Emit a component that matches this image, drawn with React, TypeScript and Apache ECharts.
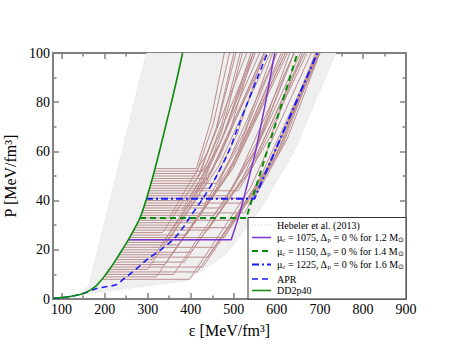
import React, { useEffect, useRef } from "react";
import * as echarts from "echarts";

// DD2p40 (hadronic EoS)
const DD2_E = [80, 100, 120, 140, 150, 160, 170, 180, 190, 200, 210, 220, 230, 240, 250, 260, 270, 282, 296, 310, 320, 335, 351, 366, 381];
const DD2_P = [0.3, 0.6, 1.05, 1.7, 2.2, 3.0, 4.0, 5.3, 7.2, 9.4, 11.8, 14.3, 17.0, 19.8, 22.6, 25.6, 28.8, 32.9, 40.0, 48.5, 55, 65.5, 77, 88, 100];

// APR
const APR_E = [80, 100, 120, 140, 150, 165, 180, 200, 228, 245, 265, 285, 300, 330, 360, 380, 397, 428, 460, 490, 510, 530, 555, 578];
const APR_P = [0.3, 0.55, 1.0, 1.7, 2.2, 3.2, 4.2, 4.9, 5.9, 8.3, 11, 14, 16.3, 20, 24.3, 28.5, 33, 40.8, 50, 60.7, 70, 79, 90, 100];

// hybrid EoS, Δp = 0 %
const MU1075_E = [256.4, 494, 513, 532, 552, 574, 595];
const MU1075_P = [24.1, 24.1, 34.3, 47, 61, 80, 100];
const MU1150_E = [282, 529, 648];
const MU1150_P = [32.9, 32.9, 100];
const MU1225_E = [296, 548, 694];
const MU1225_P = [40.8, 40.8, 100];

// Hebeler et al. (2013) band outline
const HEB_E = [145, 163, 297, 737, 640, 560, 480, 390];
const HEB_P = [1.8, 5.3, 100, 100, 60, 36, 18, 7.4];

// family of hybrid EoS (rosy lines): plateau pressure, start, end, knee, top (at P=100)
const ROSY_P = [8, 9, 10, 11, 12, 13, 14, 15, 16, 17, 18, 19, 20, 21, 22, 23, 24, 25, 26, 27, 28, 29, 30, 31, 32, 33, 34, 35, 36, 37, 38, 39, 40, 41, 42, 43, 44, 45, 46, 47, 48, 49, 50, 51, 52, 53];
const ROSY_E0 = [194, 198, 202.5, 206.5, 211, 215, 219, 222.5, 226.5, 230, 233.5, 237, 240.5, 244, 247.5, 251, 254.5, 258, 261, 264.5, 267.5, 270.5, 273.5, 276.5, 279.5, 282, 284, 285.5, 287.5, 289, 291, 292.5, 296, 297.5, 299, 301, 302.5, 304, 306, 307.5, 309, 311, 312.5, 314, 316, 317.5];
const ROSY_E1 = [397, 320, 360, 415, 300, 428, 340, 385, 310, 440, 355, 400, 325, 455, 370, 345, 420, 478, 390, 335, 440, 490, 365, 410, 505, 350, 455, 525, 380, 470, 430, 535, 395, 548, 485, 410, 510, 445, 425, 460, 413, 440, 420, 413, 430, 413];
const ROSY_KE = [538, 460, 500, 555, 435, 564, 478, 520, 435, 569, 488, 532, 450, 578, 498, 465, 545, 589, 505, 440, 550, 590, 468, 510, 600, 440, 548, 608, 465, 555, 515, 615, 470, 624, 558, 475, 585, 508, 472, 525, 459, 492, 460, 452, 472, 446];
const ROSY_KP = [45, 45, 46, 47, 47, 48, 48, 49, 50, 50, 51, 51, 52, 53, 53, 54, 54, 55, 56, 56, 57, 57, 58, 59, 59, 60, 60, 61, 62, 62, 63, 63, 64, 65, 65, 66, 66, 67, 68, 68, 69, 69, 70, 71, 71, 72];
const ROSY_TOP = [680, 600, 640, 695, 570, 700, 615, 655, 560, 698, 620, 665, 575, 700, 625, 585, 670, 700, 620, 545, 660, 690, 570, 610, 695, 530, 640, 690, 550, 640, 600, 695, 545, 700, 630, 540, 660, 570, 520, 590, 505, 545, 500, 490, 515, 478];

const FONT = "Liberation Serif";
const AXIS_GREY = "#808080";

function xAxisDef(pos: "bottom" | "top") {
  return {
    type: "value",
    position: pos,
    min: 80,
    max: 900,
    splitNumber: 8,
    axisLine: { onZero: false, lineStyle: { color: AXIS_GREY, width: 2 } },
    axisTick: { inside: true, length: 6, lineStyle: { color: AXIS_GREY, width: 1.5 } },
    minorTick: { show: true, splitNumber: 2, length: 3.5, lineStyle: { color: AXIS_GREY, width: 1.5 } },
    splitLine: { show: false },
    axisLabel: {
      show: pos === "bottom",
      showMinLabel: false,
      color: "#000",
      fontSize: 14,
      fontFamily: FONT,
      margin: 3,
    },
    name: pos === "bottom" ? "ε [MeV/fm³]" : "",
    nameLocation: "middle",
    nameGap: 23,
    nameTextStyle: { color: "#000", fontSize: 16, fontFamily: FONT },
  };
}

function yAxisDef(pos: "left" | "right") {
  return {
    type: "value",
    position: pos,
    min: 0,
    max: 100,
    interval: 20,
    axisLine: { onZero: false, lineStyle: { color: AXIS_GREY, width: 2 } },
    axisTick: { inside: true, length: 6, lineStyle: { color: AXIS_GREY, width: 1.5 } },
    minorTick: { show: true, splitNumber: 2, length: 3.5, lineStyle: { color: AXIS_GREY, width: 1.5 } },
    splitLine: { show: false },
    axisLabel: {
      show: pos === "left",
      color: "#000",
      fontSize: 14,
      fontFamily: FONT,
      margin: 3,
    },
    name: pos === "left" ? "P [MeV/fm³]" : "",
    nameLocation: "middle",
    nameGap: 29,
    nameRotate: 90,
    nameTextStyle: { color: "#000", fontSize: 16, fontFamily: FONT },
  };
}

function pairs(e: number[], p: number[]) {
  return e.map((v, i) => [v, p[i]]);
}

const RICH = {
  n: { fontSize: 10, fontFamily: FONT, fill: "#000" },
  s: { fontSize: 7, fontFamily: FONT, fill: "#000", padding: [5, 0, 0, 0] },
};

const LEGEND_ROWS = [
  { y: 225, text: "{n|Hebeler et al. (2013)}", stroke: "#d0d0d0", dash: [1, 2], width: 1 },
  { y: 237.5, text: "{n|μ}{s|c}{n| = 1075, Δ}{s|p}{n| = 0 % for 1.2 M}{s|⊙}", stroke: "#7b35d0", dash: null, width: 1.5 },
  { y: 251, text: "{n|μ}{s|c}{n| = 1150, Δ}{s|p}{n| = 0 % for 1.4 M}{s|⊙}", stroke: "#0a8a0a", dash: [6, 4], width: 2 },
  { y: 264.5, text: "{n|μ}{s|c}{n| = 1225, Δ}{s|p}{n| = 0 % for 1.6 M}{s|⊙}", stroke: "#1a1aff", dash: [7, 3, 2, 3], width: 2 },
  { y: 279, text: "{n|APR}", stroke: "#1a1aff", dash: [6, 4], width: 1.5 },
  { y: 290.5, text: "{n|DD2p40}", stroke: "#0a8a0a", dash: null, width: 1.5 },
];

export default function App() {
  const ref = useRef<HTMLDivElement>(null);

  useEffect(() => {
    if (!ref.current) return;
    const chart = echarts.init(ref.current, null, { renderer: "svg" });

    const series: any[] = [];
    series.push({
      type: "custom",
      silent: true,
      z: 1,
      clip: true,
      data: [[HEB_E[0], HEB_P[0]]],
      renderItem: (_params: any, api: any) => {
        const pts = HEB_E.map((e, i) => api.coord([e, HEB_P[i]]));
        return {
          type: "polygon",
          shape: { points: pts },
          style: { fill: "#efefef", stroke: "#d6d6d6", lineWidth: 1, lineDash: [1, 2] },
        };
      },
    });
    ROSY_P.forEach((p, i) => {
      series.push({
        type: "line",
        silent: true,
        z: 2,
        symbol: "none",
        data: [
          [ROSY_E0[i], p],
          [ROSY_E1[i], p],
          [ROSY_KE[i], ROSY_KP[i]],
          [ROSY_TOP[i], 100],
        ],
        lineStyle: { color: "#bc8f8f", width: 1 },
      });
    });
    series.push({
      type: "line", z: 3, symbol: "none", smooth: 0.3,
      data: pairs(APR_E, APR_P),
      lineStyle: { color: "#1a1aff", width: 1.6, type: [6, 4] },
    });
    series.push({
      type: "line", z: 3, symbol: "none",
      data: pairs(MU1075_E, MU1075_P),
      lineStyle: { color: "#7b35d0", width: 1.5 },
    });
    series.push({
      type: "line", z: 3, symbol: "none",
      data: pairs(MU1150_E, MU1150_P),
      lineStyle: { color: "#0a8a0a", width: 2, type: [6, 4] },
    });
    series.push({
      type: "line", z: 3, symbol: "none",
      data: pairs(MU1225_E, MU1225_P),
      lineStyle: { color: "#1a1aff", width: 2, type: [7, 3, 2, 3] },
    });
    series.push({
      type: "line", z: 4, symbol: "none", smooth: 0.3,
      data: pairs(DD2_E, DD2_P),
      lineStyle: { color: "#0a8a0a", width: 1.6 },
    });

    const graphic: any[] = [
      {
        type: "rect",
        z: 100,
        shape: { x: 248, y: 217.5, width: 158, height: 81.5 },
        style: { fill: "#fff", stroke: "#333", lineWidth: 1 },
      },
    ];
    LEGEND_ROWS.forEach((r) => {
      graphic.push({
        type: "line",
        z: 101,
        shape: { x1: 252, y1: r.y, x2: 271, y2: r.y },
        style: { stroke: r.stroke, lineWidth: r.width, lineDash: r.dash || undefined },
      });
      graphic.push({
        type: "text",
        z: 101,
        x: 277,
        y: r.y,
        style: {
          text: r.text,
          fill: "#000",
          fontSize: 10,
          fontFamily: FONT,
          verticalAlign: "middle",
          align: "left",
          rich: RICH,
        },
      });
    });

    chart.setOption({
      animation: false,
      backgroundColor: "#fff",
      grid: { left: 53, right: 51, top: 53, bottom: 54, containLabel: false, outerBoundsMode: "none" },
      xAxis: [xAxisDef("bottom"), xAxisDef("top")],
      yAxis: [yAxisDef("left"), yAxisDef("right")],
      series,
      graphic,
    });

    return () => chart.dispose();
  }, []);

  return (
    <div
      ref={ref}
      style={{ position: "absolute", left: 0, top: 0, width: 457, height: 353 }}
    />
  );
}
